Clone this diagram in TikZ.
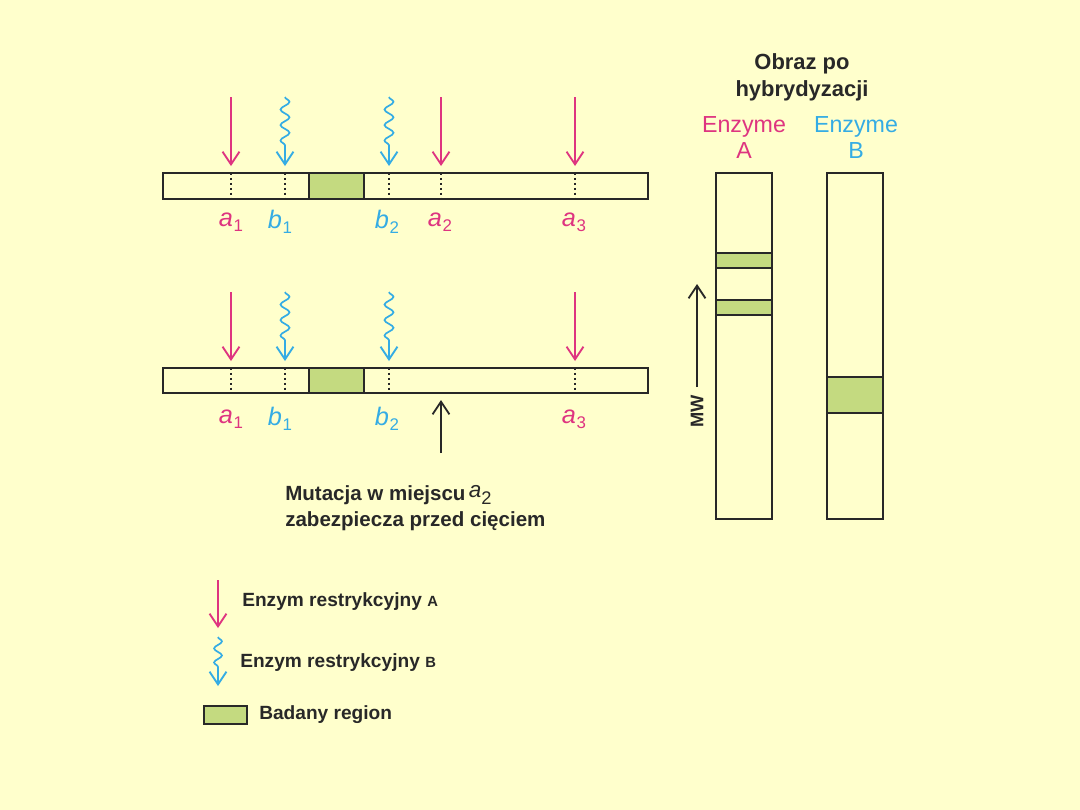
\documentclass[tikz,border=0pt]{standalone}
\usepackage{fontspec}
\setmainfont{Liberation Sans}
\usetikzlibrary{arrows.meta,decorations.pathmorphing}
\definecolor{bg}{RGB}{255,255,204}
\definecolor{pinkA}{RGB}{222,52,128}
\definecolor{blueB}{RGB}{52,172,228}
\definecolor{band}{RGB}{196,218,128}
\definecolor{ink}{RGB}{40,40,40}
\tikzset{
  tipV/.style={-{Straight Barb[length=9pt,width=12pt,line width=1.3pt]}},
  cutA/.style={pinkA, line width=1.1pt, tipV},
  cutB/.style={blueB, line width=1.2pt, decorate,
     decoration={snake, amplitude=3.2pt, segment length=11pt, post length=10pt},
     tipV},
  dna/.style={draw=ink, line width=2pt, fill=bg},
  region/.style={draw=ink, line width=2pt, fill=band},
  site/.style={ink, line width=1.5pt, dotted},
  lab/.style={font=\fontsize{18}{18}\selectfont\itshape, inner sep=0pt},
  blk/.style={ink, line width=1.3pt, tipV},
  txt/.style={font=\fontsize{14.6}{19}\selectfont\bfseries, text=ink, inner sep=0pt},
  lgd/.style={font=\fontsize{13.6}{15}\selectfont\bfseries, text=ink, inner sep=0pt, anchor=west},
  enz/.style={font=\fontsize{16.5}{17}\selectfont, inner sep=0pt},
}
\newcommand{\lbl}[2]{#1\kern0.5pt\raisebox{-3.5pt}{\fontsize{12}{12}\selectfont\upshape #2}}
\begin{document}
\begin{tikzpicture}[x=0.025cm,y=-0.025cm]
\fill[bg] (0,0) rectangle (1080,810);
\useasboundingbox (0,0) rectangle (1080,810);

% ---------- DNA molecules ----------
\foreach \r/\yt/\yb/\ya/\yl in {1/173/199/97/222, 2/368/393/292/419} {
  \draw[dna] (163,\yt) rectangle (648,\yb);
  \draw[region] (309,\yt) rectangle (364,\yb);
  \foreach \x in {231,285,389,575} \draw[site] (\x,\yt) -- (\x,\yb);
  \coordinate (a1s\r) at (231,\ya); \coordinate (a1e\r) at (231,\yt-7);
  \coordinate (b1s\r) at (285,\ya); \coordinate (b1e\r) at (285,\yt-7);
  \coordinate (b2s\r) at (389,\ya); \coordinate (b2e\r) at (389,\yt-7);
  \coordinate (a3s\r) at (575,\ya); \coordinate (a3e\r) at (575,\yt-7);
  \draw[cutA] (a1s\r) -- (a1e\r);
  \draw[cutB] (b1s\r) -- (b1e\r);
  \draw[cutB] (b2s\r) -- (b2e\r);
  \draw[cutA] (a3s\r) -- (a3e\r);
  \node[lab, text=pinkA] (la1\r) at (231,\yl) {\lbl{a}{1}};
  \node[lab, text=blueB] (lb1\r) at (280,\yl) {\lbl{b}{1}};
  \node[lab, text=blueB] (lb2\r) at (387,\yl) {\lbl{b}{2}};
  \node[lab, text=pinkA] (la3\r) at (574,\yl) {\lbl{a}{3}};
}
% site a2 on top molecule only
\draw[site] (441,173) -- (441,199);
\coordinate (a2s) at (441,97); \coordinate (a2e) at (441,166);
\draw[cutA] (a2s) -- (a2e);
\node[lab, text=pinkA] (la2) at (440,222) {\lbl{a}{2}};

% mutation arrow and text
\coordinate (mutS) at (441,453); \coordinate (mutE) at (441,400);
\draw[blk] (mutS) -- (mutE);
\node[txt, anchor=west] (mut1) at (285,495) {Mutacja w miejscu\,\raisebox{2pt}{\mdseries\itshape\fontsize{16}{16}\selectfont a}\raisebox{-3pt}{\mdseries\fontsize{13}{13}\selectfont 2}};
\node[txt, anchor=west] (mut2) at (285,521) {zabezpiecza przed cięciem};

% ---------- hybridization image ----------
\node[txt, align=center, font=\fontsize{15.6}{19}\selectfont\bfseries] (title) at (802,77) {Obraz po\\hybrydyzacji};
\node[enz, text=pinkA] (enzA) at (744,127) {Enzyme};
\node[enz, text=pinkA] (enzA2) at (744,151) {A};
\node[enz, text=blueB] (enzB) at (856,127) {Enzyme};
\node[enz, text=blueB] (enzB2) at (856,151) {B};

\draw[dna] (716,173) rectangle (772,519);
\draw[region] (716,253) rectangle (772,268);
\draw[region] (716,300) rectangle (772,315);
\draw[dna] (827,173) rectangle (883,519);
\draw[region] (827,377) rectangle (883,413);

\coordinate (mwS) at (697,387); \coordinate (mwE) at (697,284);
\draw[blk] (mwS) -- (mwE);
\node[font=\fontsize{13}{13}\selectfont\bfseries, text=ink, rotate=90, inner sep=0pt] (mw) at (697,411) {MW};

% ---------- legend ----------
\coordinate (lAs) at (218,580); \coordinate (lAe) at (218,628);
\draw[cutA] (lAs) -- (lAe);
\node[lgd] (lgA) at (242,602) {Enzym restrykcyjny {\fontsize{10.5}{11}\selectfont A}};
\coordinate (lBs) at (218,637); \coordinate (lBe) at (218,686);
\draw[cutB, decoration={snake, amplitude=2.8pt, segment length=10pt, post length=10pt}] (lBs) -- (lBe);
\node[lgd] (lgB) at (240,663) {Enzym restrykcyjny {\fontsize{10.5}{11}\selectfont B}};
\draw[region] (204,706) rectangle (247,724);
\node[lgd] (lgR) at (259,715) {Badany region};
\end{tikzpicture}
\end{document}
